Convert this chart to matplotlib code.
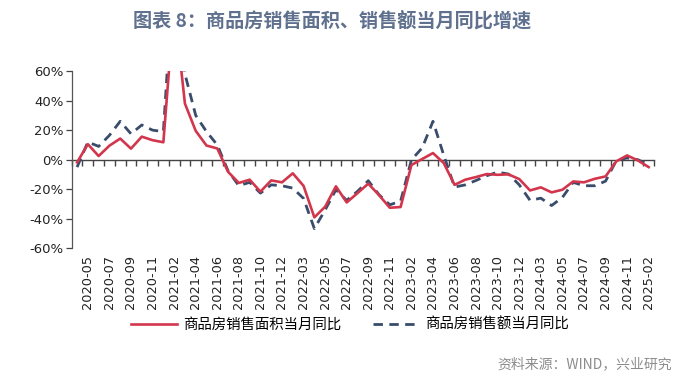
import numpy as np
import matplotlib
matplotlib.use('Agg')
import matplotlib.pyplot as plt

plt.rcParams['font.family'] = ['DejaVu Sans', 'Noto Sans CJK SC']

# 月份（1月与2月合并，无1月数据）
months = ['2020-%02d' % m for m in range(4, 13)]
for y in [2021, 2022, 2023, 2024]:
    months += ['%d-%02d' % (y, m) for m in range(2, 13)]
months += ['2025-02']

# 商品房销售面积当月同比 (%)
area = [-1.8, 10.5, 2.5, 9.5, 14.3, 7.5, 15.6, 13.2, 11.8,
        104.9, 38.0, 19.5, 9.6, 7.6, -8.2, -15.7, -13.5, -21.6, -14.0, -15.3,
        -9.2, -17.7, -39.0, -31.8, -18.0, -28.9, -22.6, -16.2, -24.0, -32.5, -32.0,
        -3.6, 0.5, 4.5, -2.3, -17.0, -13.5, -11.7, -9.7, -10.2, -9.9, -13.1,
        -20.8, -18.7, -22.1, -20.3, -14.7, -15.3, -12.9, -11.3, -1.1, 2.9, -0.5,
        -5.0]

# 商品房销售额当月同比 (%)
amount = [-5.0, 12.0, 9.0, 16.5, 26.0, 17.5, 23.5, 20.0, 19.0,
          133.4, 58.0, 30.0, 19.0, 10.0, -7.5, -17.6, -15.3, -22.6, -17.0, -17.6,
          -19.2, -26.2, -46.6, -34.0, -20.3, -27.5, -21.4, -14.2, -23.7, -30.5, -28.0,
          -0.1, 8.0, 26.0, 3.0, -18.5, -17.0, -14.0, -10.8, -8.4, -9.7, -17.0,
          -27.5, -26.0, -31.0, -25.5, -15.3, -17.6, -17.6, -14.5, -0.5, 1.2, 0.0,
          -3.4]

yticks = [-60, -40, -20, 0, 20, 40, 60]

x = np.arange(len(months))

fig = plt.figure(figsize=(7, 3.81), dpi=100)
ax = fig.add_axes([0.1024, 0.348, 0.832, 0.4656])

ax.plot(x, area, color='#d2364c', lw=1.9, label='商品房销售面积当月同比', zorder=3)
ax.plot(x, amount, color='#3a4c6b', lw=2.0, linestyle=(0, (3.4, 2.3)),
        label='商品房销售额当月同比', zorder=2)

ax.set_xlim(-0.5, len(months) - 0.5)
ax.set_ylim(-60, 60)
ax.set_yticks(yticks)
ax.set_yticklabels(['%d%%' % v for v in yticks], fontsize=9.5, color='#222222')
ax.tick_params(axis='y', direction='out', length=4, width=0.9, color='#444444', pad=2)

for s in ['top', 'right', 'bottom']:
    ax.spines[s].set_visible(False)
ax.spines['left'].set_color('#555555')
ax.spines['left'].set_linewidth(0.9)

# 底部日期标签
ax.set_xticks(x[1::2])
ax.set_xticklabels(months[1::2], rotation=90, fontsize=9.3, color='#222222')
ax.tick_params(axis='x', length=0, pad=5)

# 零线及分类刻度（y=0 位于坐标轴中部）
zero = ax.secondary_xaxis(0.5)
zero.set_xticks(np.arange(len(months) + 1) - 0.5)
zero.set_xticklabels([])
zero.tick_params(direction='in', length=4.5, width=1.0, color='#444444')
for s in zero.spines.values():
    s.set_color('#444444')
    s.set_linewidth(1.0)

fig.text(0.475, 0.945, '图表 8：商品房销售面积、销售额当月同比增速', ha='center', va='center',
         fontsize=13.8, fontweight='bold', color='#5f718e',
         family=['Noto Sans CJK SC', 'DejaVu Sans'])

leg = fig.legend(loc='center', bbox_to_anchor=(0.5, 0.148), ncol=2, frameon=False,
                 prop={'family': ['Noto Sans CJK SC', 'DejaVu Sans'], 'size': 10.4},
                 handlelength=3.2, columnspacing=2.2, handletextpad=0.4)

fig.text(0.96, 0.045, '资料来源：WIND，兴业研究', ha='right', va='center', fontsize=10,
         color='#8c8c8c', family=['Noto Sans CJK SC', 'DejaVu Sans'])

fig.savefig('out.png', dpi=100)
